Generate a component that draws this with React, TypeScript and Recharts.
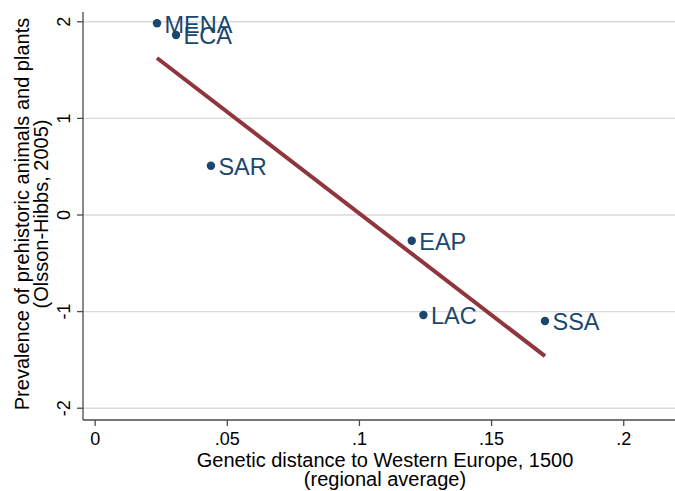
import React from 'react'
import {
  ScatterChart,
  Scatter,
  XAxis,
  YAxis,
  CartesianGrid,
  Label,
} from 'recharts'

// regional averages
const regions = ['MENA', 'ECA', 'SAR', 'EAP', 'LAC', 'SSA']
const geneticDistance = [0.0234, 0.0306, 0.0438, 0.1198, 0.1242, 0.1702]
const prehistoric = [1.984, 1.863, 0.51, -0.266, -1.035, -1.097]

// fitted line end points
const fitX = [0.0234, 0.1702]
const fitY = [1.625, -1.46]

const xTicks = [0, 0.05, 0.1, 0.15, 0.2]
const xTickLabels = ['0', '.05', '.1', '.15', '.2']
const yTicks = [-2, -1, 0, 1, 2]

const font = '"Liberation Sans", Arial, sans-serif'
const navy = '#1a476f'
const maroon = '#90353b'
const axisColor = '#4a4a4a'

const points = regions.map((name, i) => ({
  name,
  x: geneticDistance[i],
  y: prehistoric[i],
}))
const fit = fitX.map((x, i) => ({ x, y: fitY[i] }))

const RegionDot = (props: any) => {
  const { cx, cy, payload } = props
  return (
    <g>
      <circle cx={cx} cy={cy} r={4.2} fill={navy} />
      <text
        x={cx + 7.5}
        y={cy}
        dy="0.4em"
        fontSize={23.5}
        fontFamily={font}
        fill={navy}
      >
        {payload.name}
      </text>
    </g>
  )
}

const YTick = (props: any) => {
  const { x, y, payload } = props
  return (
    <text
      x={x}
      y={y}
      transform={`rotate(-90, ${x}, ${y})`}
      textAnchor="middle"
      fontSize={18}
      fontFamily={font}
      fill="#000"
    >
      {payload.value}
    </text>
  )
}

const XTick = (props: any) => {
  const { x, y, payload } = props
  const idx = xTicks.indexOf(payload.value)
  return (
    <text
      x={x}
      y={y}
      dy="0.71em"
      textAnchor="middle"
      fontSize={18}
      fontFamily={font}
      fill="#000"
    >
      {idx >= 0 ? xTickLabels[idx] : payload.value}
    </text>
  )
}

const YTitle = (props: any) => {
  const { viewBox } = props
  const cy = viewBox.y + viewBox.height / 2 - 2
  return (
    <g fontFamily={font} fontSize={20} fill="#000">
      <text x={28.5} y={cy} transform={`rotate(-90, 28.5, ${cy})`} textAnchor="middle">
        Prevalence of prehistoric animals and plants
      </text>
      <text x={48} y={cy} transform={`rotate(-90, 48, ${cy})`} textAnchor="middle">
        (Olsson-Hibbs, 2005)
      </text>
    </g>
  )
}

const XTitle = () => {
  return (
    <g fontFamily={font} fontSize={20} fill="#000">
      <text x={385} y={467} textAnchor="middle">
        Genetic distance to Western Europe, 1500
      </text>
      <text x={385} y={486} textAnchor="middle">
        (regional average)
      </text>
    </g>
  )
}

export default function App() {
  return (
    <div style={{ position: 'absolute', left: 0, top: 0, background: '#fff' }}>
      <ScatterChart
        width={675}
        height={491}
        margin={{ top: 12, right: 0, bottom: 0, left: 0 }}
        style={{ fontFamily: font }}
      >
        <CartesianGrid
          horizontal
          vertical={false}
          stroke="#dadada"
          strokeWidth={1.4}
          horizontalValues={yTicks}
        />
        <XAxis
          type="number"
          dataKey="x"
          domain={[-0.0046, 0.2194]}
          ticks={xTicks}
          allowDataOverflow
          height={71}
          tickSize={6}
          tickMargin={6}
          stroke={axisColor}
          strokeWidth={1.3}
          tick={<XTick />}
        >
          <Label content={<XTitle />} />
        </XAxis>
        <YAxis
          type="number"
          dataKey="y"
          domain={[-2.122, 2.101]}
          ticks={yTicks}
          allowDataOverflow
          width={83}
          tickSize={6}
          tickMargin={7}
          stroke={axisColor}
          strokeWidth={1.3}
          tick={<YTick />}
        >
          <Label content={<YTitle />} />
        </YAxis>
        <Scatter
          data={fit}
          line={{ stroke: maroon, strokeWidth: 4 }}
          shape={() => <g />}
          isAnimationActive={false}
        />
        <Scatter
          data={points}
          shape={<RegionDot />}
          isAnimationActive={false}
        />
      </ScatterChart>
    </div>
  )
}
